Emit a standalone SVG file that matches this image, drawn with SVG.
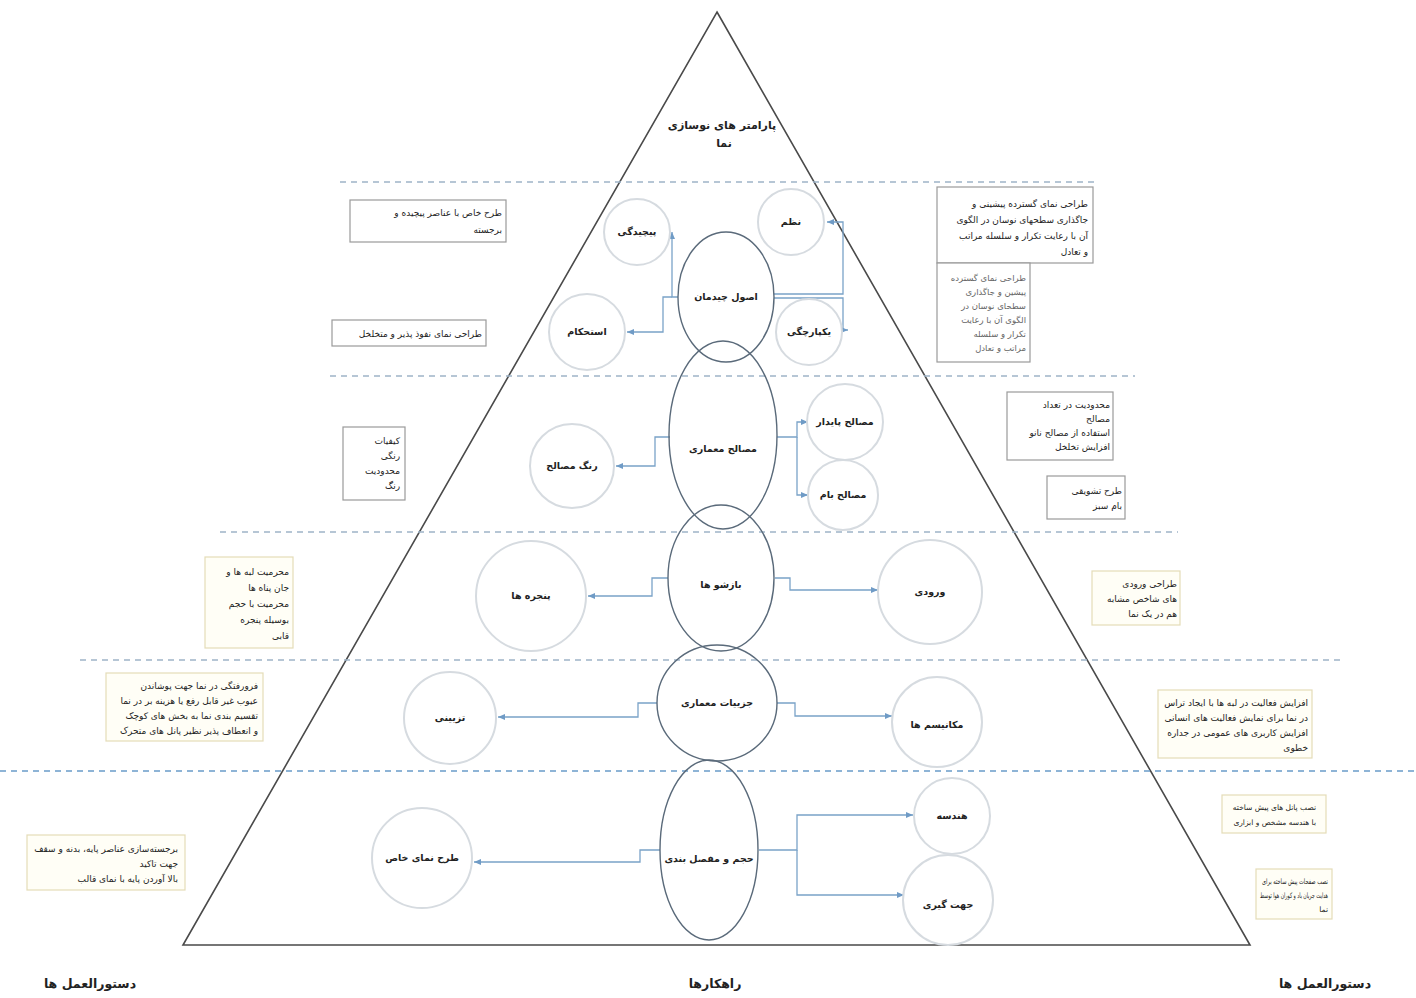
<svg xmlns="http://www.w3.org/2000/svg" width="1416" height="998" viewBox="0 0 1416 998">
<style>
.tri{fill:none;stroke:#4a4a4a;stroke-width:1.6}
.dash{stroke:#9fb4c8;stroke-width:1.3;stroke-dasharray:6,5;fill:none}
.dash2{stroke:#6a9cc9;stroke-width:1.6;stroke-dasharray:6,5;fill:none}
.ell{fill:none;stroke:#5a6a7a;stroke-width:1.4}
.cir{fill:none;stroke:#d6dbe0;stroke-width:2}
.con{fill:none;stroke:#7aa3c8;stroke-width:1.3}
.box{fill:#fff;stroke:#9a9a9a;stroke-width:1.2}
.boxy{fill:#fffef6;stroke:#e4dcb8;stroke-width:1.2}
text{font-family:"DejaVu Sans","Noto Sans",sans-serif;fill:#222}
.lab{font-size:9.5px;text-anchor:middle;font-weight:bold}
.note{font-size:9px;text-anchor:end}
.small{font-size:7.5px;text-anchor:end}
.noteg{font-size:8.5px;text-anchor:end;fill:#666}
.title{font-size:11px;text-anchor:middle;font-weight:bold}
.foot{font-size:12.5px;text-anchor:middle;font-weight:bold}
</style>
<defs>
<marker id="ar" markerWidth="8" markerHeight="8" refX="7" refY="4" orient="auto" markerUnits="userSpaceOnUse">
<path d="M0,1 L7,4 L0,7 Z" fill="#6f9bc6"/>
</marker>
</defs>
<rect width="1416" height="998" fill="#fff"/>

<g id="pyramid">
<polygon class="tri" points="717,12 1250,945 183,945"/>
</g>
<g id="separators">
<line class="dash" x1="340" y1="182" x2="1095" y2="182"/>
<line class="dash" x1="330" y1="376" x2="1135" y2="376"/>
<line class="dash" x1="220" y1="532" x2="1178" y2="532"/>
<line class="dash" x1="80" y1="660" x2="1345" y2="660"/>
<line class="dash2" x1="0" y1="771" x2="1416" y2="771"/>
</g>

<g id="title">
<text class="title" x="722" y="129">پارامتر های نوسازی</text>
<text class="title" x="724" y="147">نما</text>
</g>

<g id="connectors">
<path class="con" d="M678,297 H672 V232" marker-end="url(#ar)"/>
<path class="con" d="M672,297 H663 V332 H627" marker-end="url(#ar)"/>
<path class="con" d="M774,294 H843 V222 H827" marker-end="url(#ar)"/>
<path class="con" d="M774,298 H843 V330 H848" marker-end="url(#ar)"/>
<path class="con" d="M670,437 H655 V466 H616" marker-end="url(#ar)"/>
<path class="con" d="M777,437 H797 V422 H808" marker-end="url(#ar)"/>
<path class="con" d="M797,437 V495 H808" marker-end="url(#ar)"/>
<path class="con" d="M668,578 H652 V596 H588" marker-end="url(#ar)"/>
<path class="con" d="M775,578 H790 V590 H878" marker-end="url(#ar)"/>
<path class="con" d="M657,703 H638 V717 H498" marker-end="url(#ar)"/>
<path class="con" d="M777,703 H795 V716 H892" marker-end="url(#ar)"/>
<path class="con" d="M660,850 H640 V862 H474" marker-end="url(#ar)"/>
<path class="con" d="M759,850 H797 V815 H913" marker-end="url(#ar)"/>
<path class="con" d="M797,850 V895 H904" marker-end="url(#ar)"/>
</g>

<g id="n-osool">
<ellipse class="ell" cx="726" cy="297" rx="48" ry="65"/>
<text class="lab" x="726" y="300">اصول چیدمان</text>
</g>
<g id="n-pichidegi">
<circle class="cir" cx="637" cy="232" r="33"/>
<text class="lab" x="637" y="235">پیچیدگی</text>
</g>
<g id="n-estehkam">
<circle class="cir" cx="587" cy="332" r="38"/>
<text class="lab" x="587" y="335">استحکام</text>
</g>
<g id="n-nazm">
<circle class="cir" cx="791" cy="222" r="33"/>
<text class="lab" x="791" y="225">نظم</text>
</g>
<g id="n-yekparchegi">
<circle class="cir" cx="809" cy="332" r="33"/>
<text class="lab" x="809" y="335">یکپارچگی</text>
</g>

<g id="n-masaleh">
<ellipse class="ell" cx="723" cy="435" rx="54" ry="94"/>
<text class="lab" x="723" y="452">مصالح معماری</text>
</g>
<g id="n-rang">
<circle class="cir" cx="572" cy="466" r="42"/>
<text class="lab" x="572" y="469">رنگ مصالح</text>
</g>
<g id="n-paydar">
<circle class="cir" cx="845" cy="422" r="38"/>
<text class="lab" x="845" y="425">مصالح پایدار</text>
</g>
<g id="n-bam">
<circle class="cir" cx="843" cy="495" r="35"/>
<text class="lab" x="843" y="498">مصالح بام</text>
</g>

<g id="n-bazsho">
<ellipse class="ell" cx="721" cy="578" rx="53" ry="73"/>
<text class="lab" x="721" y="588">بازشو ها</text>
</g>
<g id="n-panjere">
<circle class="cir" cx="531" cy="596" r="55"/>
<text class="lab" x="531" y="599">پنجره ها</text>
</g>
<g id="n-vorodi">
<circle class="cir" cx="930" cy="592" r="52"/>
<text class="lab" x="930" y="595">ورودی</text>
</g>

<g id="n-joziat">
<ellipse class="ell" cx="717" cy="703" rx="60" ry="58"/>
<text class="lab" x="717" y="706">جزییات معماری</text>
</g>
<g id="n-tazini">
<circle class="cir" cx="450" cy="718" r="46"/>
<text class="lab" x="450" y="721">تزیینی</text>
</g>
<g id="n-mekanism">
<circle class="cir" cx="937" cy="722" r="45"/>
<text class="lab" x="937" y="728">مکانیسم ها</text>
</g>

<g id="n-hajm">
<ellipse class="ell" cx="709" cy="850" rx="49" ry="90"/>
<text class="lab" x="709" y="862">حجم و مفصل بندی</text>
</g>
<g id="n-tarh">
<circle class="cir" cx="422" cy="858" r="50"/>
<text class="lab" x="422" y="861">طرح نمای خاص</text>
</g>
<g id="n-hendese">
<circle class="cir" cx="952" cy="816" r="38"/>
<text class="lab" x="952" y="819">هندسه</text>
</g>
<g id="n-jahat">
<circle class="cir" cx="948" cy="900" r="45"/>
<text class="lab" x="948" y="908">جهت گیری</text>
</g>

<g id="note-l1a">
<rect class="box" x="350" y="200" width="156" height="42"/>
<text class="note" x="502" y="216">طرح خاص با عناصر پیچیده و</text>
<text class="note" x="502" y="233">برجسته</text>
</g>
<g id="note-l1b">
<rect class="box" x="332" y="320" width="154" height="26"/>
<text class="note" x="482" y="337">طراحی نمای نفوذ پذیر و متخلخل</text>
</g>
<g id="note-r1a">
<rect class="box" x="937" y="187" width="156" height="76"/>
<text class="note" x="1088" y="207">طراحی نمای گسترده پیشینی و</text>
<text class="note" x="1088" y="223">جاگذاری سطحهای نوسان در الگوی</text>
<text class="note" x="1088" y="239">آن با رعایت تکرار و سلسله مراتب</text>
<text class="note" x="1088" y="255">و تعادل</text>
</g>
<g id="note-r1b">
<rect class="box" x="937" y="263" width="93" height="99"/>
<text class="noteg" x="1026" y="281">طراحی نمای گسترده</text>
<text class="noteg" x="1026" y="295">پیشین و جاگذاری</text>
<text class="noteg" x="1026" y="309">سطحای نوسان در</text>
<text class="noteg" x="1026" y="323">الگوی آن با رعایت</text>
<text class="noteg" x="1026" y="337">تکرار و سلسله</text>
<text class="noteg" x="1026" y="351">مراتب و تعادل</text>
</g>
<g id="note-l2">
<rect class="box" x="343" y="427" width="62" height="73"/>
<text class="note" x="400" y="444">کیفیات</text>
<text class="note" x="400" y="459">رنگی</text>
<text class="note" x="400" y="474">محدودیت</text>
<text class="note" x="400" y="489">رنگ</text>
</g>
<g id="note-r2a">
<rect class="box" x="1007" y="392" width="106" height="68"/>
<text class="note" x="1110" y="408">محدودیت در تعداد</text>
<text class="note" x="1110" y="422">مصالح</text>
<text class="note" x="1110" y="436">استفاده از مصالح نانو</text>
<text class="note" x="1110" y="450">افزایش تخلخل</text>
</g>
<g id="note-r2b">
<rect class="box" x="1047" y="476" width="78" height="43"/>
<text class="note" x="1122" y="494">طرح تشویقی</text>
<text class="note" x="1122" y="509">بام سبز</text>
</g>
<g id="note-l3">
<rect class="boxy" x="205" y="557" width="88" height="91"/>
<text class="note" x="289" y="575">محرمیت لبه ها و</text>
<text class="note" x="289" y="591">جان پناه ها</text>
<text class="note" x="289" y="607">محرمیت با حجم</text>
<text class="note" x="289" y="623">بوسیله پنجره</text>
<text class="note" x="289" y="639">قابی</text>
</g>
<g id="note-r3">
<rect class="boxy" x="1092" y="571" width="88" height="54"/>
<text class="note" x="1177" y="587">طراحی ورودی</text>
<text class="note" x="1177" y="602">های شاخص مشابه</text>
<text class="note" x="1177" y="617">هم در یک نما</text>
</g>
<g id="note-l4">
<rect class="boxy" x="106" y="673" width="157" height="68"/>
<text class="note" x="258" y="689">فرورفتگی در نما جهت پوشاندن</text>
<text class="note" x="258" y="704">عیوب غیر قابل رفع یا هزینه بر در نما</text>
<text class="note" x="258" y="719">تقسیم بندی نما به بخش های کوچک</text>
<text class="note" x="258" y="734">و انعطاف پذیر نظیر پانل های متحرک</text>
</g>
<g id="note-r4">
<rect class="boxy" x="1158" y="690" width="154" height="68"/>
<text class="note" x="1308" y="706">افزایش فعالیت در لبه ها با ایجاد تراس</text>
<text class="note" x="1308" y="721">در نما برای نمایش فعالیت های انسانی</text>
<text class="note" x="1308" y="736">افزایش کاربری های عمومی در جداره</text>
<text class="note" x="1308" y="751">خطوی</text>
</g>
<g id="note-l5">
<rect class="boxy" x="27" y="835" width="158" height="55"/>
<text class="note" x="178" y="852">برجسته‌سازی عناصر پایه، بدنه و سقف</text>
<text class="note" x="178" y="867">جهت تاکید</text>
<text class="note" x="178" y="882">بالا آوردن پایه با نمای قالب</text>
</g>
<g id="note-r5a">
<rect class="boxy" x="1222" y="795" width="104" height="38"/>
<text class="small" x="1316" y="810">نصب پانل های پیش ساخته</text>
<text class="small" x="1316" y="825">با هندسه مشخص و ابزاری</text>
</g>
<g id="note-r5b">
<rect class="boxy" x="1256" y="869" width="76" height="50"/>
<text class="small" x="1328" y="884" textLength="66" lengthAdjust="spacingAndGlyphs">نصب صفحات پیش ساخته برای</text>
<text class="small" x="1328" y="898" textLength="68" lengthAdjust="spacingAndGlyphs">هدایت جریان باد و کوران هوا توسط</text>
<text class="small" x="1328" y="912">نما</text>
</g>

<g id="footer">
<text class="foot" x="90" y="988">دستورالعمل ها</text>
<text class="foot" x="715" y="988">راهکارها</text>
<text class="foot" x="1325" y="988">دستورالعمل ها</text>
</g>
</svg>
